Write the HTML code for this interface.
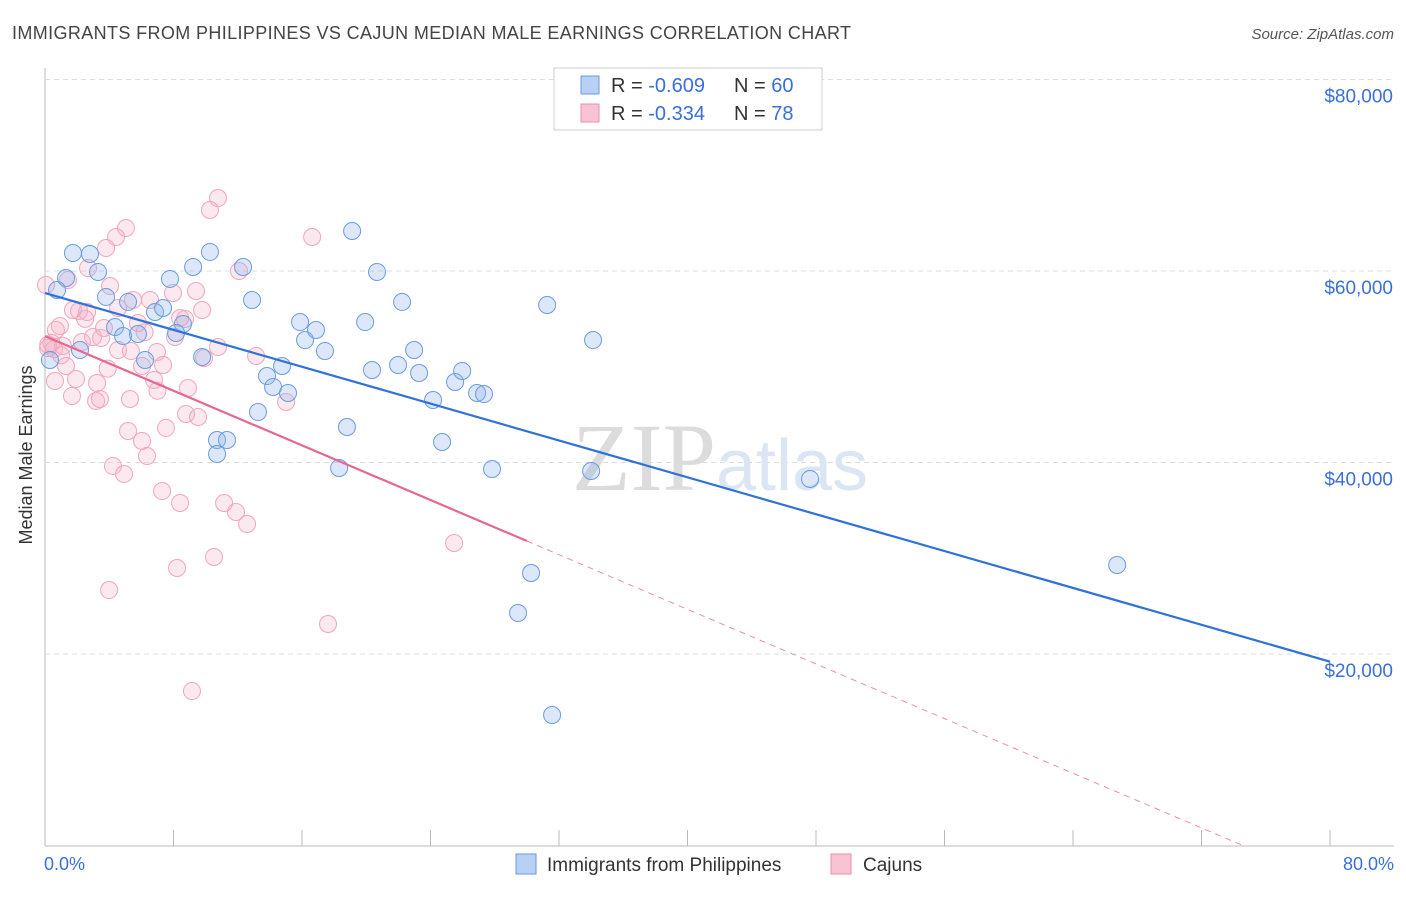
<!DOCTYPE html>
<html><head><meta charset="utf-8"><style>
body{margin:0;background:#fff;font-family:"Liberation Sans",sans-serif}
</style></head><body>
<svg width="1406" height="892" xmlns="http://www.w3.org/2000/svg" font-family="Liberation Sans, sans-serif">
<text x="12" y="39" font-size="18" fill="#444" textLength="839" lengthAdjust="spacing">IMMIGRANTS FROM PHILIPPINES VS CAJUN MEDIAN MALE EARNINGS CORRELATION CHART</text>
<text x="1394" y="39" font-size="15" fill="#555" text-anchor="end" font-style="italic">Source: ZipAtlas.com</text>
<g id="grid"></g>
<text x="720" y="490" font-size="96" fill="#e4e4e4" text-anchor="middle" font-family="Liberation Serif, serif"><tspan fill="#dcdcdc">ZIP</tspan><tspan fill="#dbe6f5" font-family="Liberation Sans, sans-serif" font-size="72">atlas</tspan></text>
<g id="pts"></g>
<g id="lines"></g>
<text x="32" y="455" font-size="18" fill="#333" text-anchor="middle" transform="rotate(-90 32 455)">Median Male Earnings</text>
<text x="44" y="870" font-size="18" fill="#3a6fd8">0.0%</text>
<text x="1394" y="870" font-size="18" fill="#3a6fd8" text-anchor="end">80.0%</text>
<g>
<rect x="554" y="68" width="268" height="62" fill="#fff" stroke="#ccc"/>
<rect x="581" y="76" width="18" height="18" fill="#b8d0f4" stroke="#6a9ae0"/>
<rect x="581" y="104" width="18" height="18" fill="#f8c4d4" stroke="#e890aa"/>
<text x="611" y="92" font-size="20" fill="#333">R = <tspan fill="#3a6fd8">-0.609</tspan><tspan x="734">N = </tspan><tspan fill="#3a6fd8">60</tspan></text>
<text x="611" y="120" font-size="20" fill="#333">R = <tspan fill="#3a6fd8">-0.334</tspan><tspan x="734">N = </tspan><tspan fill="#3a6fd8"> 78</tspan></text>
</g>
<g>
<rect x="516" y="854" width="20" height="20" fill="#b8d0f4" stroke="#6a9ae0"/>
<text x="547" y="871" font-size="19" fill="#333">Immigrants from Philippines</text>
<rect x="831" y="854" width="20" height="20" fill="#f8c4d4" stroke="#e890aa"/>
<text x="863" y="871" font-size="19" fill="#333">Cajuns</text>
</g>
</svg>
<script>
const yTicks=[20000,40000,60000,80000];
const yTickLabels=["$20,000","$40,000","$60,000","$80,000"];
const xTicks=[0,8,16,24,32,40,48,56,64,72,80];
const blueX=[1.74,2.80,1.31,3.30,0.75,3.80,5.17,6.85,7.35,7.78,9.22,10.27,12.33,12.89,8.59,4.36,4.86,5.79,8.16,2.18,6.23,9.78,13.82,14.76,14.20,15.13,13.26,10.71,11.33,10.71,15.88,16.19,16.87,17.43,19.12,20.67,22.23,19.93,20.36,21.98,22.98,23.29,18.80,18.31,24.16,24.72,25.53,25.97,26.90,27.33,27.83,31.26,34.12,34.00,30.26,29.45,31.57,47.63,66.75,0.31];
const blueY=[61880,61780,59270,59900,58020,57290,56770,55720,56140,59170,60420,61990,60420,56970,54470,54150,53210,53420,53530,51750,50710,51020,49030,50080,47890,47260,45270,42350,42350,40890,54670,52790,53840,51650,64180,59900,56770,54670,49660,50180,51750,49350,43710,39430,46530,42140,48410,49560,47260,47150,39320,56450,52790,39110,28460,24280,13630,38280,29300,50710];
const pinkX=[10.77,10.27,5.04,4.42,3.80,16.63,2.68,1.43,12.08,0.06,4.05,5.48,7.97,9.40,2.12,1.74,2.62,3.67,0.93,0.68,0.19,0.56,1.12,2.30,2.99,3.49,4.55,5.35,5.79,6.97,8.41,9.78,8.09,8.72,10.77,13.14,1.31,1.93,3.24,3.18,3.42,0.62,1.68,5.29,6.04,6.79,7.35,8.90,8.78,9.53,5.17,6.04,6.35,4.23,4.92,7.53,15.01,7.29,8.41,11.15,11.89,12.58,10.52,8.22,3.99,9.15,17.62,25.47,4.55,6.54,0.4,1.0,2.5,3.9,6.2,7.0,9.9,0.2];
const pinkY=[67620,66370,64490,63550,62400,63550,60310,59060,60000,58540,58430,56970,57700,57910,55820,55930,55720,54050,54260,53840,51960,51850,52170,52590,53110,53000,51750,51640,54570,51540,55090,55930,53110,54990,52060,51120,50080,48720,48300,46420,46630,48510,46950,46630,50080,48620,50180,47780,45070,44750,43290,42250,40680,39640,38800,43610,46320,37020,35770,35770,34830,33580,30130,28980,26680,16130,23130,31590,56140,56970,52500,51200,55000,49800,53600,47500,50900,52300];
const blueTrend=[57700,19200]; // y at x=0 and x=80
const pinkTrend=[53200,31800,30.0]; // y at 0, y at end, solid end x
const NS="http://www.w3.org/2000/svg";
const X=v=>45+v*1285/80, Y=v=>654-(v-20000)*191.5/20000;
function mk(t,a,p){const e=document.createElementNS(NS,t);for(const k in a)e.setAttribute(k,a[k]);p.appendChild(e);return e;}
const g=document.getElementById('grid');
const ax=mk('line',{x1:45,y1:68,x2:45,y2:846,stroke:'#bbb'},g);


const bx=mk('line',{x1:45,y1:846,x2:1394,y2:846,stroke:'#bbb'},g);


yTicks.forEach((v,i)=>{
 const l=mk('line',{x1:45,y1:Y(v),x2:1394,y2:Y(v),stroke:'#ddd','stroke-dasharray':'5,4'},g);
 
 
 const t=mk('text',{x:1393,y:Y(v)+23,'font-size':19,fill:'#3a6fd8','text-anchor':'end'},g);
 t.textContent=yTickLabels[i];
 
 
});
xTicks.forEach(v=>{
 const l=mk('line',{x1:X(v),y1:830,x2:X(v),y2:846,stroke:'#bbb'},g);
 
 
});
const p=document.getElementById('pts');
pinkX.forEach((x,i)=>{
 const c=mk('circle',{cx:X(x),cy:Y(pinkY[i]),r:8.5,fill:'rgba(245,175,198,0.28)',stroke:'#f0a6be','stroke-width':1},p);
 
 
});
blueX.forEach((x,i)=>{
 const c=mk('circle',{cx:X(x),cy:Y(blueY[i]),r:8.5,fill:'rgba(140,180,235,0.3)',stroke:'#6a9be0','stroke-width':1},p);
 
 
});
const L=document.getElementById('lines');
const b=mk('line',{x1:X(0),y1:Y(blueTrend[0]),x2:X(80),y2:Y(blueTrend[1]),stroke:'#2f72d6','stroke-width':2.2},L);


const slope=(pinkTrend[1]-pinkTrend[0])/pinkTrend[2];
const pk=mk('line',{x1:X(0),y1:Y(pinkTrend[0]),x2:X(pinkTrend[2]),y2:Y(pinkTrend[1]),stroke:'#e46890','stroke-width':2.2},L);


const xe=-pinkTrend[0]/slope;
const pd=mk('line',{x1:X(pinkTrend[2]),y1:Y(pinkTrend[1]),x2:X(xe),y2:Y(0),stroke:'#e890aa','stroke-width':1,'stroke-dasharray':'6,5'},L);


</script>
</body></html>
